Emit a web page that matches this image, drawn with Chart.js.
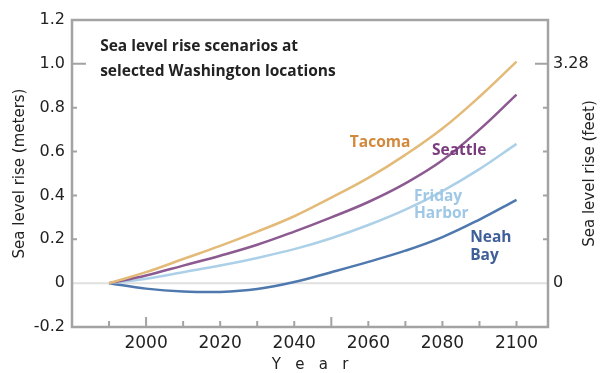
<!DOCTYPE html>
<html>
<head>
<meta charset="utf-8">
<script src="https://cdn.jsdelivr.net/npm/chart.js@4"></script>
<style>
  html, body { margin: 0; padding: 0; background: #fff; }
</style>
</head>
<body>
<canvas id="seaChart" width="602" height="373"></canvas>
<script>
// Sea level rise (meters) relative to 1990
const years = [1990, 2000, 2010, 2020, 2030, 2040, 2050, 2060, 2070, 2080, 2090, 2100];
const tacoma = [0, 0.05, 0.11, 0.17, 0.235, 0.305, 0.39, 0.48, 0.585, 0.705, 0.85, 1.01];
const seattle = [0, 0.035, 0.08, 0.125, 0.175, 0.235, 0.30, 0.37, 0.455, 0.56, 0.70, 0.86];
const fridayHarbor = [0, 0.02, 0.05, 0.08, 0.115, 0.155, 0.205, 0.265, 0.335, 0.42, 0.52, 0.635];
const neahBay = [0, -0.025, -0.038, -0.04, -0.027, 0.005, 0.05, 0.097, 0.148, 0.21, 0.29, 0.38];

const yTickLabels = { "-0.2": "-0.2", "0": "0", "0.2": "0.2", "0.4": "0.4", "0.6": "0.6", "0.8": "0.8", "1": "1.0", "1.2": "1.2" };
const feetTickLabels = { "0": "0", "1": "3.28" };

const FONT = "'DejaVu Sans', sans-serif";
const BOLD = "'Open Sans', sans-serif";

const toPoints = (vals) => years.map((yr, i) => ({ x: yr, y: vals[i] }));

// text placed in data units
const notes = [
  { text: "Sea level rise scenarios at", x: 1987.6, y: 1.077, color: "#222" },
  { text: "selected Washington locations", x: 1987.6, y: 0.963, color: "#222" },
  { text: "Tacoma", x: 2055.0, y: 0.639, color: "#d2893c" },
  { text: "Seattle", x: 2077.2, y: 0.603, color: "#7a3b7e" },
  { text: "Friday", x: 2072.3, y: 0.397, color: "#9fc8e6" },
  { text: "Harbor", x: 2072.3, y: 0.315, color: "#9fc8e6" },
  { text: "Neah", x: 2087.5, y: 0.206, color: "#3e5f97" },
  { text: "Bay", x: 2087.5, y: 0.124, color: "#3e5f97" },
];

const near = (a, b) => Math.abs(a - b) < 1e-6;

const decor = {
  id: "decor",
  beforeDatasetsDraw(chart) {
    const { ctx, chartArea: a, scales } = chart;
    const y0 = scales.y.getPixelForValue(0);
    ctx.save();
    ctx.strokeStyle = "#e0e0e0";
    ctx.lineWidth = 2;
    ctx.beginPath();
    ctx.moveTo(a.left, y0);
    ctx.lineTo(a.right, y0);
    ctx.stroke();
    ctx.restore();
  },
  afterDraw(chart) {
    const { ctx, chartArea: a, scales } = chart;
    ctx.save();

    // frame
    ctx.strokeStyle = "#a3a3a3";
    ctx.lineWidth = 2.5;
    ctx.strokeRect(a.left, a.top, a.right - a.left, a.bottom - a.top);

    // inward tick marks
    ctx.lineWidth = 2;
    ctx.beginPath();
    [0.2, 0.4, 0.6, 0.8, 1.0].forEach((v) => {
      const py = scales.y.getPixelForValue(v);
      ctx.moveTo(a.left, py);
      ctx.lineTo(a.left + (near(v, 1) ? 14 : 5), py);
      ctx.moveTo(a.right, py);
      ctx.lineTo(a.right - (near(v, 1) ? 13 : 5), py);
    });
    for (let yr = 1990; yr <= 2100; yr += 10) {
      const px = scales.x.getPixelForValue(yr);
      const len = yr === 2000 || yr === 2050 ? 10 : 6;
      ctx.moveTo(px, a.bottom);
      ctx.lineTo(px, a.bottom - len);
    }
    ctx.stroke();

    // notes
    ctx.font = "bold 15.5px " + BOLD;
    ctx.textAlign = "left";
    ctx.textBaseline = "middle";
    notes.forEach((n) => {
      ctx.fillStyle = n.color;
      ctx.fillText(n.text, scales.x.getPixelForValue(n.x), scales.y.getPixelForValue(n.y));
    });

    // right axis title, reads bottom to top like the left one
    ctx.translate(590, (a.top + a.bottom) / 2);
    ctx.rotate(-Math.PI / 2);
    ctx.textAlign = "center";
    ctx.fillStyle = "#222";
    ctx.font = "15px " + FONT;
    ctx.fillText("Sea level rise (feet)", 0, 0);
    ctx.restore();
  },
};

const line = (label, vals, color) => ({
  label,
  data: toPoints(vals),
  borderColor: color,
  backgroundColor: color,
  borderWidth: 2.5,
  pointRadius: 0,
  fill: false,
  tension: 0.4,
});

new Chart(document.getElementById("seaChart"), {
  type: "line",
  data: {
    datasets: [
      line("Tacoma", tacoma, "#e3ba78"),
      line("Seattle", seattle, "#8c5a91"),
      line("Friday Harbor", fridayHarbor, "#acd0e8"),
      line("Neah Bay", neahBay, "#4e78ae"),
    ],
  },
  options: {
    responsive: false,
    animation: false,
    layout: { padding: { top: 20, left: 0, right: 0, bottom: 0 } },
    plugins: { legend: { display: false }, tooltip: { enabled: false } },
    scales: {
      x: {
        type: "linear",
        min: 1980,
        max: 2108.5,
        grid: { display: false, drawTicks: false },
        border: { display: false },
        ticks: {
          stepSize: 10,
          includeBounds: false,
          autoSkip: false,
          maxRotation: 0,
          padding: 6,
          color: "#222",
          font: { size: 17, family: FONT },
          callback: (v) => (v >= 2000 && v % 20 === 0 ? String(v) : ""),
        },
        title: {
          display: true,
          text: "Y   e   a   r",
          color: "#222",
          font: { size: 15, family: FONT, lineHeight: 1 },
          padding: { top: 0, bottom: 0 },
        },
        afterFit(scale) { scale.height = 46; },
      },
      y: {
        type: "linear",
        position: "left",
        min: -0.2,
        max: 1.2,
        grid: { display: false, drawTicks: false },
        border: { display: false },
        ticks: {
          stepSize: 0.2,
          padding: 7,
          color: "#222",
          font: { size: 16, family: FONT },
          callback: (v) => yTickLabels[String(Math.round(v * 10) / 10)] ?? "",
        },
        title: {
          display: true,
          text: "Sea level rise (meters)",
          color: "#222",
          font: { size: 15, family: FONT, lineHeight: 1.2 },
          padding: { top: 11, bottom: 0 },
        },
        afterFit(scale) { scale.width = 72; },
      },
      y1: {
        type: "linear",
        position: "right",
        min: -0.2,
        max: 1.2,
        grid: { display: false, drawTicks: false },
        border: { display: false },
        ticks: {
          stepSize: 0.2,
          padding: 5,
          color: "#222",
          font: { size: 16, family: FONT },
          callback: (v) => feetTickLabels[String(Math.round(v * 10) / 10)] ?? "",
        },
        afterFit(scale) { scale.width = 54; },
      },
    },
  },
  plugins: [decor],
});
</script>
</body>
</html>
